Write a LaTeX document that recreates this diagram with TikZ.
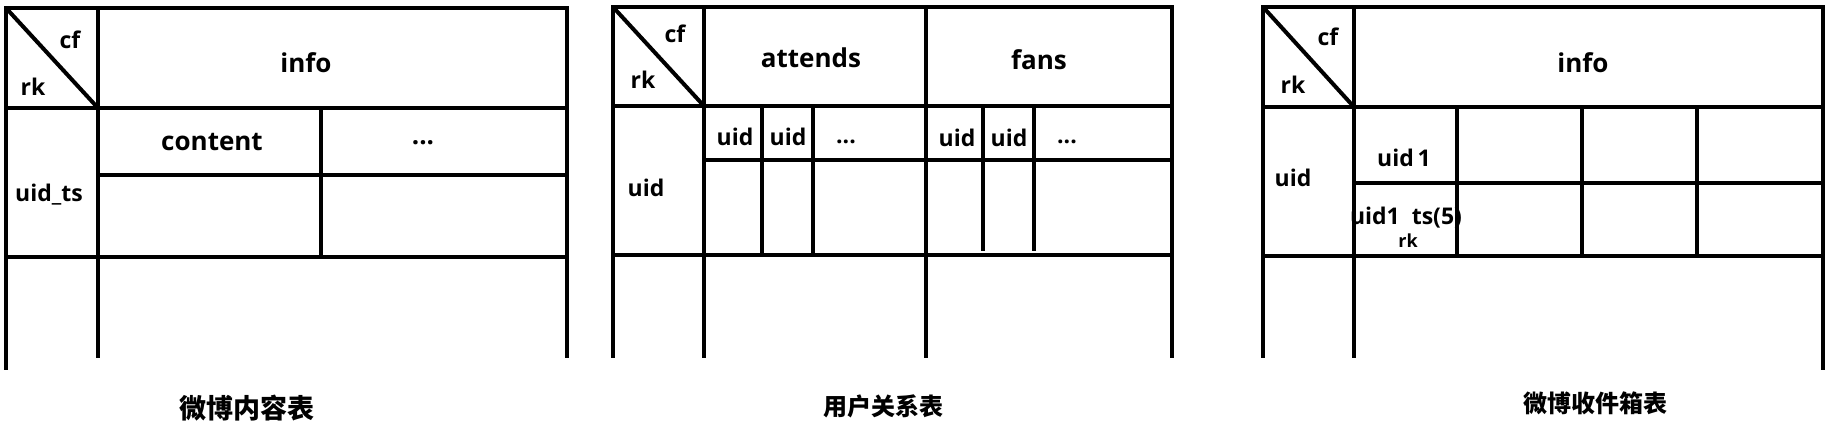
\documentclass[tikz,border=0pt]{standalone}
\usepackage{fontspec}
\setmainfont{Open Sans}
\newfontfamily\cjk{Noto Sans CJK SC}
\usepackage{tikz}
\usetikzlibrary{positioning, calc}

\begin{document}
\begin{tikzpicture}[x=1pt, y=-1pt]

         %%%%%%%%%%%%%%%%%%%%%%%%%%%%%%%%%%%%%%%%%%%%%%%%%%%%%%%%%%%%%%%%%%%%%%
         % Stile
         %%%%%%%%%%%%%%%%%%%%%%%%%%%%%%%%%%%%%%%%%%%%%%%%%%%%%%%%%%%%%%%%%%%%%%
         \tikzset{
            grid/.style={line width=4pt, line cap=rect},
            lbl/.style={inner sep=0pt, font=\bfseries\fontsize{23}{26}\selectfont},
            head/.style={inner sep=0pt, font=\bfseries\fontsize{26}{30}\selectfont},
            small/.style={inner sep=0pt, font=\bfseries\fontsize{18}{20}\selectfont},
            title/.style={inner sep=0pt, font=\cjk\bfseries\fontsize{24}{28}\selectfont}
         }

         \useasboundingbox (0,0) rectangle (1832,437);

         %%%%%%%%%%%%%%%%%%%%%%%%%%%%%%%%%%%%%%%%%%%%%%%%%%%%%%%%%%%%%%%%%%%%%%
         % Tabelle 1: Inhalt
         %%%%%%%%%%%%%%%%%%%%%%%%%%%%%%%%%%%%%%%%%%%%%%%%%%%%%%%%%%%%%%%%%%%%%%
         \def\xl{6}
         \def\xd{98}
         \def\xs{321}
         \def\xr{567}
         \def\yt{8}
         \def\yh{108}
         \def\yc{175}
         \def\yb{257}

         \draw[grid] (\xl,\yt) -- (\xr,\yt);
         \draw[grid] (\xl,\yh) -- (\xr,\yh);
         \draw[grid] (\xd,\yc) -- (\xr,\yc);
         \draw[grid] (\xl,\yb) -- (\xr,\yb);

         \draw[grid] (\xl,\yt) -- (\xl,368);
         \draw[grid] (\xd,\yt) -- (\xd,356);
         \draw[grid] (\xs,\yh) -- (\xs,\yb);
         \draw[grid] (\xr,\yt) -- (\xr,356);

         % Diagonale im Eckfeld
         \draw[grid, line cap=butt] (\xl,\yt) -- (\xd,\yh);

         \node[lbl]  (cfA)      at (70,40)   {cf};
         \node[lbl]  (rkA)      at (33,87)   {rk};
         \node[head] (infoA)    at (306,63)  {info};
         \node[head] (content)  at (212,142) {content};
         \node[head] (dotsA)    at (423,143) {...};
         \node[lbl]  (uidts)    at (49,195)  {uid\_ts};
         \node[title,font=\cjk\bfseries\fontsize{27}{30}\selectfont]
                     (titleA)   at (247,408) {微博内容表};

         %%%%%%%%%%%%%%%%%%%%%%%%%%%%%%%%%%%%%%%%%%%%%%%%%%%%%%%%%%%%%%%%%%%%%%
         % Tabelle 2: Beziehungen
         %%%%%%%%%%%%%%%%%%%%%%%%%%%%%%%%%%%%%%%%%%%%%%%%%%%%%%%%%%%%%%%%%%%%%%
         \def\xl{613}
         \def\xd{704}
         \def\xm{926}
         \def\xr{1172}
         \def\yt{7}
         \def\yh{106}
         \def\yu{160}
         \def\yb{255}

         \draw[grid] (\xl,\yt) -- (\xr,\yt);
         \draw[grid] (\xl,\yh) -- (\xr,\yh);
         \draw[grid] (\xd,\yu) -- (\xr,\yu);
         \draw[grid] (\xl,\yb) -- (\xr,\yb);

         \draw[grid] (\xl,\yt) -- (\xl,356);
         \draw[grid] (\xd,\yt) -- (\xd,356);
         \draw[grid] (\xm,\yt) -- (\xm,356);
         \draw[grid] (\xr,\yt) -- (\xr,356);

         \foreach \x in {762,813}
            \draw[grid] (\x,\yh) -- (\x,\yb);
         \foreach \x in {983,1034}
            \draw[grid] (\x,\yh) -- (\x,249);

         \draw[grid, line cap=butt] (\xl,\yt) -- (\xd,\yh);

         \node[lbl]  (cfB)      at (675,34)   {cf};
         \node[lbl]  (rkB)      at (643,80)   {rk};
         \node[head] (attends)  at (811,58)   {attends};
         \node[head] (fans)     at (1039,60)  {fans};
         \node[lbl]  (uidB)     at (646,188)  {uid};
         \node[lbl]  (uidBa)    at (735,137)  {uid};
         \node[lbl]  (uidBb)    at (788,137)  {uid};
         \node[lbl]  (dotsBa)   at (846,142)  {...};
         \node[lbl]  (uidBc)    at (957,138)  {uid};
         \node[lbl]  (uidBd)    at (1009,138) {uid};
         \node[lbl]  (dotsBb)   at (1067,142) {...};
         \node[title] (titleB)  at (883,406)  {用户关系表};

         %%%%%%%%%%%%%%%%%%%%%%%%%%%%%%%%%%%%%%%%%%%%%%%%%%%%%%%%%%%%%%%%%%%%%%
         % Tabelle 3: Posteingang
         %%%%%%%%%%%%%%%%%%%%%%%%%%%%%%%%%%%%%%%%%%%%%%%%%%%%%%%%%%%%%%%%%%%%%%
         \def\xl{1263}
         \def\xd{1354}
         \def\xr{1823}
         \def\yt{7}
         \def\yh{107}
         \def\ym{183}
         \def\yb{256}

         \draw[grid] (\xl,\yt) -- (\xr,\yt);
         \draw[grid] (\xl,\yh) -- (\xr,\yh);
         \draw[grid] (\xd,\ym) -- (\xr,\ym);
         \draw[grid] (\xl,\yb) -- (\xr,\yb);

         \draw[grid] (\xl,\yt) -- (\xl,356);
         \draw[grid] (\xd,\yt) -- (\xd,356);
         \draw[grid] (\xr,\yt) -- (\xr,368);

         \foreach \x in {1457,1582,1697}
            \draw[grid] (\x,\yh) -- (\x,\yb);

         \draw[grid, line cap=butt] (\xl,\yt) -- (\xd,\yh);

         \node[lbl]  (cfC)      at (1328,37)  {cf};
         \node[lbl]  (rkC)      at (1293,85)  {rk};
         \node[head] (infoC)    at (1583,63)  {info};
         \node[lbl]  (uidC)     at (1293,178) {uid};
         \node[lbl]  (uidone)   at (1404,158) {uid\,1};
         \node[lbl]  (uidonets) at (1406,218) {uid1~~ts(5)};
         \node[small] (rkCC)    at (1408,241) {rk};
         \node[title] (titleC)  at (1595,403) {微博收件箱表};

\end{tikzpicture}
\end{document}
